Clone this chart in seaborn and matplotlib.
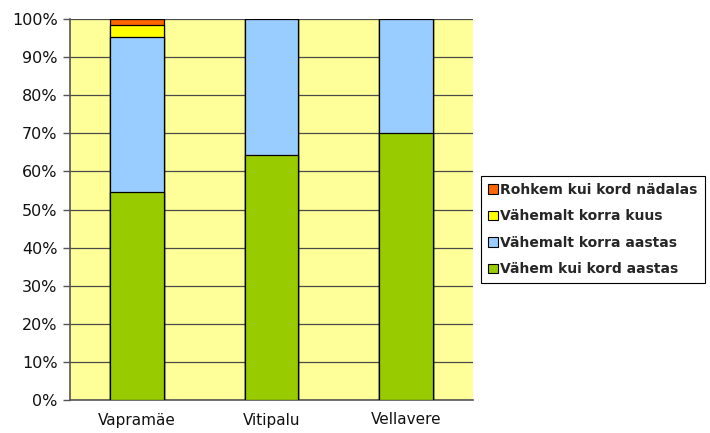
import pandas as pd
import numpy as np
import seaborn as sns
import matplotlib.pyplot as plt
from matplotlib.patches import Patch
from matplotlib.ticker import FixedLocator, FuncFormatter

# data (percent of answers)
villages = ['Vapramäe', 'Vitipalu', 'Vellavere']
less_than_yearly = [54.5, 64.3, 70.0]
at_least_yearly = [40.7, 35.7, 30.0]
at_least_monthly = [3.1, 0.0, 0.0]
more_than_weekly = [1.7, 0.0, 0.0]

series_names = ['Vähem kui kord aastas', 'Vähemalt korra aastas',
                'Vähemalt korra kuus', 'Rohkem kui kord nädalas']
series_colors = ['#99CC00', '#99CCFF', '#FFFF00', '#FF6600']

df = pd.DataFrame({'village': villages,
                   series_names[0]: less_than_yearly,
                   series_names[1]: at_least_yearly,
                   series_names[2]: at_least_monthly,
                   series_names[3]: more_than_weekly})
# cumulative heights so each layer can be drawn on top of the next
cum = df[series_names].cumsum(axis=1)
cum['village'] = df['village']

sns.set_style('white')
plt.rcParams['font.family'] = ['DejaVu Sans']

fig = plt.figure(figsize=(7.1, 4.33), dpi=100)
ax = fig.add_axes([70/710, 33/433, 403/710, 381/433])
ax.set_facecolor('#FFFF99')

# draw from the top segment down, so the lower ones cover the upper
for name, col in zip(series_names[::-1], series_colors[::-1]):
    sns.barplot(data=cum, x='village', y=name, color=col, saturation=1, width=0.4,
                edgecolor='black', linewidth=0.9, ax=ax, zorder=3)

ax.set_ylim(0, 100)
ax.set_xlim(-0.5, 2.5)
ax.set_xlabel('')
ax.set_ylabel('')
ax.set_yticks(np.arange(0, 101, 10))
ax.yaxis.set_major_formatter(FuncFormatter(lambda v, p: '%d%%' % v))
ax.yaxis.grid(True, color='#4a4a4a', linewidth=0.9, zorder=1)
ax.set_axisbelow(True)

ax.xaxis.set_minor_locator(FixedLocator([-0.5, 0.5, 1.5, 2.5]))
ax.tick_params(axis='x', which='major', length=0, pad=9, labelsize=11, colors='#111111')
ax.tick_params(axis='x', which='minor', length=5, width=1, color='#555555', direction='out')
ax.tick_params(axis='y', which='major', length=5, width=1, color='#555555', pad=4,
               direction='out', labelsize=11.5, labelcolor='#111111', left=True)

for s in ['top', 'right']:
    ax.spines[s].set_visible(False)
ax.spines['left'].set_color('#555555')
ax.spines['bottom'].set_color('#555555')
ax.spines['left'].set_linewidth(1.2)
ax.spines['bottom'].set_linewidth(1.2)

handles = [Patch(facecolor=c, edgecolor='black', linewidth=0.8, label=n)
           for n, c in zip(series_names[::-1], series_colors[::-1])]
leg = fig.legend(handles=handles, loc='upper left', bbox_to_anchor=(481/710, 1 - 176/433),
                 frameon=True, fancybox=False, edgecolor='black', framealpha=1,
                 prop={'weight': 'bold', 'size': 10}, handlelength=0.7, handleheight=0.7,
                 handletextpad=0.2, labelspacing=0.9, borderpad=0.5, borderaxespad=0)
leg.get_frame().set_linewidth(0.8)

fig.savefig('out.png', dpi=100)
